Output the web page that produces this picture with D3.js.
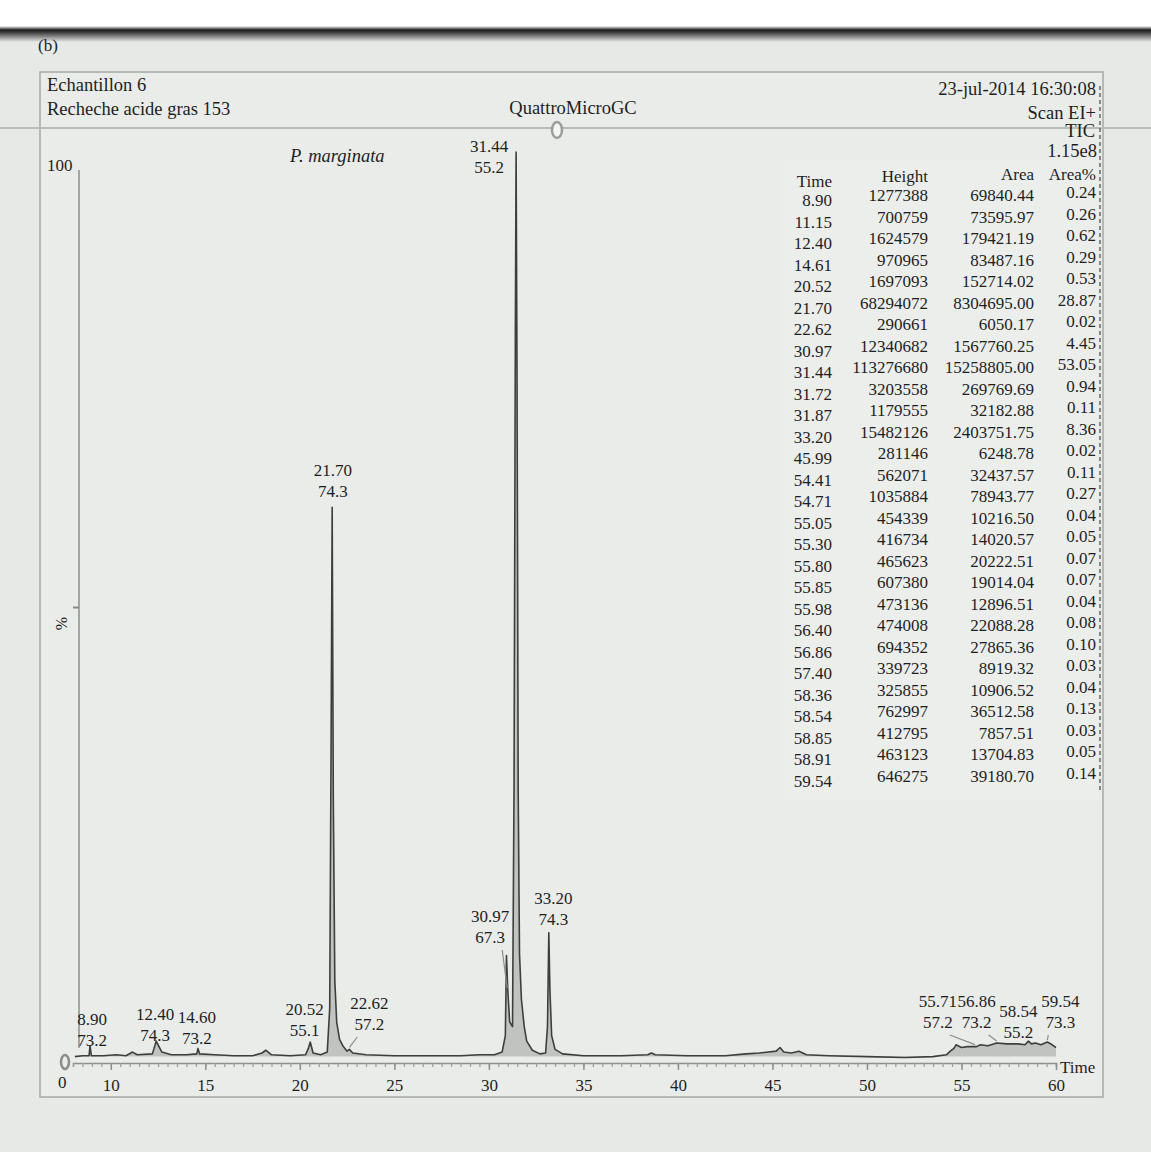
<!DOCTYPE html>
<html>
<head>
<meta charset="utf-8">
<script src="https://cdn.jsdelivr.net/npm/d3@7"></script>
<style>
  body { margin: 0; background: #fff; }
  svg text { font-family: "Liberation Serif", "Times New Roman", serif; fill: #1e1e1e; }
</style>
</head>
<body>
<div id="chart"></div>
<script>
// chromatogram trace, [time (min), % of max]
var trace = [
  [8.1,0.7],[8.5,0.8],[8.85,0.8],[8.9,1.9],[8.97,0.8],[9.6,0.8],[10.3,0.9],[10.8,0.8],
  [11.15,1.2],[11.4,0.9],[12.2,1.0],[12.4,2.4],[12.7,1.2],[13.2,0.9],[14.0,0.9],[14.55,1.0],
  [14.61,1.6],[14.7,1.0],[15.5,0.9],[16.5,0.8],[17.5,0.8],[18.0,1.1],[18.2,1.4],[18.5,0.9],
  [19.5,0.8],[20.3,0.9],[20.45,1.6],[20.55,2.3],[20.7,1.1],[21.1,0.9],[21.45,1.2],[21.58,6],
  [21.65,34],[21.71,61],[21.77,29],[21.85,9],[21.95,4.5],[22.1,2.6],[22.3,1.8],[22.5,1.3],
  [22.62,1.5],[22.8,1.1],[23.5,0.9],[25,0.8],[27,0.8],[28.5,0.8],[29.5,0.9],[30.3,0.9],
  [30.7,1.2],[30.87,3],[30.93,11.8],[31.0,8],[31.1,4.5],[31.25,4],[31.33,30],[31.4,80],
  [31.44,100],[31.49,75],[31.55,30],[31.62,12],[31.72,7],[31.87,4],[32.0,2.4],[32.3,1.4],
  [32.7,1.0],[33.0,1.1],[33.1,4],[33.17,14.3],[33.23,8],[33.32,3],[33.5,1.5],[33.9,1.0],
  [35,0.8],[37,0.8],[38.4,0.9],[38.6,1.1],[38.8,0.9],[40.5,0.8],[42.5,0.8],[43.6,1.0],
  [44.3,1.1],[45.2,1.3],[45.4,1.7],[45.6,1.2],[46.0,1.1],[46.4,1.3],[46.8,0.9],[48,0.8],
  [50,0.7],[52,0.6],[53.5,0.7],[54.2,0.9],[54.41,1.3],[54.6,1.6],[54.71,2.0],[55.0,1.7],
  [55.3,1.8],[55.8,1.8],[56.0,2.0],[56.4,1.9],[56.86,2.2],[57.4,2.1],[58.0,2.1],[58.36,2.0],
  [58.54,2.4],[58.7,2.1],[58.91,2.2],[59.2,2.0],[59.54,2.3],[59.8,2.0],[60.0,1.7]
];

// peak annotations (retention time / base ion)
var peakTimes = [8.90, 12.40, 14.60, 20.52, 21.70, 22.62, 30.97, 31.44, 33.20, 55.71, 56.86, 58.54, 59.54];
var peakTimeText = ["8.90","12.40","14.60","20.52","21.70","22.62","30.97","31.44","33.20","55.71","56.86","58.54","59.54"];
var peakIonText = ["73.2","74.3","73.2","55.1","74.3","57.2","67.3","55.2","74.3","57.2","73.2","55.2","73.3"];

var xTicks = [10, 15, 20, 25, 30, 35, 40, 45, 50, 55, 60];

// integration table
var tableTime = ["8.90","11.15","12.40","14.61","20.52","21.70","22.62","30.97","31.44","31.72","31.87","33.20","45.99","54.41",
  "54.71","55.05","55.30","55.80","55.85","55.98","56.40","56.86","57.40","58.36","58.54","58.85","58.91","59.54"];
var tableHeight = ["1277388","700759","1624579","970965","1697093","68294072","290661","12340682","113276680","3203558","1179555",
  "15482126","281146","562071","1035884","454339","416734","465623","607380","473136","474008","694352","339723","325855",
  "762997","412795","463123","646275"];
var tableArea = ["69840.44","73595.97","179421.19","83487.16","152714.02","8304695.00","6050.17","1567760.25","15258805.00",
  "269769.69","32182.88","2403751.75","6248.78","32437.57","78943.77","10216.50","14020.57","20222.51","19014.04","12896.51",
  "22088.28","27865.36","8919.32","10906.52","36512.58","7857.51","13704.83","39180.70"];
var tableAreaPct = ["0.24","0.26","0.62","0.29","0.53","28.87","0.02","4.45","53.05","0.94","0.11","8.36","0.02","0.11",
  "0.27","0.04","0.05","0.07","0.07","0.04","0.08","0.10","0.03","0.04","0.13","0.03","0.05","0.14"];

var W = 1151, H = 1152;
var svg = d3.select("#chart").append("svg").attr("width", W).attr("height", H);

// page / scan background
var defs = svg.append("defs");
var grad = defs.append("linearGradient").attr("id", "band").attr("x1", 0).attr("y1", 0).attr("x2", 0).attr("y2", 1);
grad.append("stop").attr("offset", "0%").attr("stop-color", "#ffffff");
grad.append("stop").attr("offset", "25%").attr("stop-color", "#1a1a1a");
grad.append("stop").attr("offset", "45%").attr("stop-color", "#4a4a4a");
grad.append("stop").attr("offset", "100%").attr("stop-color", "#e6e9e6");
svg.append("rect").attr("width", W).attr("height", H).attr("fill", "#e6e9e6");
svg.append("rect").attr("width", W).attr("height", 26).attr("fill", "#ffffff");
svg.append("rect").attr("y", 26).attr("width", W).attr("height", 16).attr("fill", "url(#band)");

svg.append("text").attr("x", 38).attr("y", 51).style("font-size", "17px").text("(b)");

// frame
svg.append("rect").attr("x", 40).attr("y", 72).attr("width", 1063).attr("height", 1025)
  .attr("fill", "#e9ece9").attr("stroke", "#a5a8a5").attr("stroke-width", 1.5);
svg.append("rect").attr("x", 780).attr("y", 160).attr("width", 318).attr("height", 640).attr("fill", "#eceeec");
svg.append("line").attr("x1", 0).attr("x2", W).attr("y1", 128).attr("y2", 128)
  .attr("stroke", "#b9bcb9").attr("stroke-width", 2);
svg.append("line").attr("x1", 1100).attr("x2", 1100).attr("y1", 86).attr("y2", 792)
  .attr("stroke", "#666").attr("stroke-width", 1.5).attr("stroke-dasharray", "4,3");

// header
var hdr = svg.append("g").style("font-size", "18.5px");
hdr.append("text").attr("x", 47).attr("y", 91).text("Echantillon 6");
hdr.append("text").attr("x", 47).attr("y", 115).text("Recheche acide gras 153");
hdr.append("text").attr("x", 573).attr("y", 114).attr("text-anchor", "middle").text("QuattroMicroGC");
hdr.append("text").attr("x", 1096).attr("y", 95).attr("text-anchor", "end").text("23-jul-2014 16:30:08");
hdr.append("text").attr("x", 1096).attr("y", 119).attr("text-anchor", "end").text("Scan EI+");
hdr.append("text").attr("x", 1095).attr("y", 137).attr("text-anchor", "end").text("TIC");
hdr.append("text").attr("x", 1097).attr("y", 157).attr("text-anchor", "end").text("1.15e8");
hdr.append("text").attr("x", 290).attr("y", 162).style("font-style", "italic").text("P. marginata");
svg.append("ellipse").attr("cx", 557).attr("cy", 130).attr("rx", 5).attr("ry", 8)
  .attr("fill", "#f4f4f4").attr("stroke", "#9a9d9a").attr("stroke-width", 2.5);

// table
var tbl = svg.append("g").style("font-size", "17px").attr("text-anchor", "end");
var cols = [
  {head: "Time", vals: tableTime, x: 832, hy: 187, dy: 0},
  {head: "Height", vals: tableHeight, x: 928, hy: 182, dy: -5},
  {head: "Area", vals: tableArea, x: 1034, hy: 180, dy: -5},
  {head: "Area%", vals: tableAreaPct, x: 1096, hy: 180, dy: -8}
];
var rowY = d3.scaleLinear().domain([0, tableTime.length - 1]).range([206, 787]);
cols.forEach(function(c){
  tbl.append("text").attr("x", c.x).attr("y", c.hy).text(c.head);
  tbl.selectAll(null).data(c.vals).enter().append("text")
    .attr("x", c.x).attr("y", function(d, i){ return rowY(i) + c.dy; }).text(function(d){ return d; });
});

// scales
var x = d3.scaleLinear().domain([8, 60]).range([73, 1056]);
var y = d3.scaleLinear().domain([0, 100]).range([1063, 152]);

// y axis
svg.append("line").attr("x1", 79).attr("x2", 79).attr("y1", 170).attr("y2", 1048)
  .attr("stroke", "#a3a6a3").attr("stroke-width", 2);
svg.append("line").attr("x1", 73).attr("x2", 79).attr("y1", y(50)).attr("y2", y(50))
  .attr("stroke", "#888").attr("stroke-width", 2);
svg.append("text").attr("x", 47).attr("y", 171).style("font-size", "17px").text("100");
svg.append("text").attr("transform", "translate(67," + (y(50) + 16) + ") rotate(-90)")
  .attr("text-anchor", "middle").style("font-size", "16px").text("%");
svg.append("text").attr("x", 58).attr("y", 1088).style("font-size", "17px").text("0");
svg.append("ellipse").attr("cx", 65).attr("cy", 1062).attr("rx", 4).attr("ry", 7)
  .attr("fill", "none").attr("stroke", "#8a8d8a").attr("stroke-width", 2.5);

// x axis
var minor = d3.range(8, 60.01, 0.5);
var gMinor = svg.append("g").attr("transform", "translate(0," + y(0) + ")")
  .call(d3.axisBottom(x).tickValues(minor).tickSize(4).tickFormat(""));
gMinor.select(".domain").attr("stroke", "#8d908d").attr("stroke-width", 1.5);
gMinor.selectAll(".tick line").attr("stroke", "#9a9d9a").attr("stroke-width", 1.2);
var gx = svg.append("g").attr("transform", "translate(0," + y(0) + ")")
  .call(d3.axisBottom(x).tickValues(xTicks).tickSize(7).tickPadding(9).tickFormat(d3.format("d")));
gx.select(".domain").remove();
gx.selectAll(".tick line").attr("stroke", "#8d908d").attr("stroke-width", 1.5);
gx.selectAll(".tick text").style("font-size", "17px").attr("fill", "#1e1e1e")
  .style("font-family", "'Liberation Serif', 'Times New Roman', serif");
svg.append("text").attr("x", 1060).attr("y", 1073).style("font-size", "17px").text("Time");

// trace
var area = d3.area().x(function(d){ return x(d[0]); }).y0(y(0.7)).y1(function(d){ return y(d[1]); });
var line = d3.line().x(function(d){ return x(d[0]); }).y(function(d){ return y(d[1]); });
svg.append("path").datum(trace).attr("d", area).attr("fill", "#8f928f").attr("opacity", 0.45);
svg.append("path").datum(trace).attr("d", line).attr("fill", "none")
  .attr("stroke", "#3c3f3c").attr("stroke-width", 1.6).attr("stroke-linejoin", "round");

// annotation layout: label centre offset from peak, first-line baseline, leader line
var labelLayout = [
  {dx: 2, y: 1025}, {dx: -1, y: 1020}, {dx: -1, y: 1023}, {dx: -5, y: 1015},
  {dx: 1, y: 476}, {dx: 20, y: 1009, leader: true}, {dx: -17, y: 922, leader: true},
  {dx: -27, y: 152}, {dx: 4, y: 904}, {dx: -37, y: 1007, leader: true},
  {dx: -20, y: 1007, leader: true}, {dx: -10, y: 1017}, {dx: 13, y: 1007, leader: true}
];
function peakPct(t){
  var best = trace[0];
  trace.forEach(function(p){ if (Math.abs(p[0] - t) < Math.abs(best[0] - t)) best = p; });
  return best[1];
}
var ann = svg.append("g").style("font-size", "17px").attr("text-anchor", "middle");
peakTimes.forEach(function(t, i){
  var L = labelLayout[i], cx = x(t) + L.dx;
  if (L.leader) {
    svg.append("line").attr("x1", cx + (L.dx < 0 ? 12 : -12)).attr("y1", L.y + 28)
      .attr("x2", x(t)).attr("y2", y(peakPct(t)) - 2)
      .attr("stroke", "#8a8d8a").attr("stroke-width", 1.2);
  }
  ann.append("text").attr("x", cx).attr("y", L.y).text(peakTimeText[i]);
  ann.append("text").attr("x", cx).attr("y", L.y + 21).text(peakIonText[i]);
});
</script>
</body>
</html>
